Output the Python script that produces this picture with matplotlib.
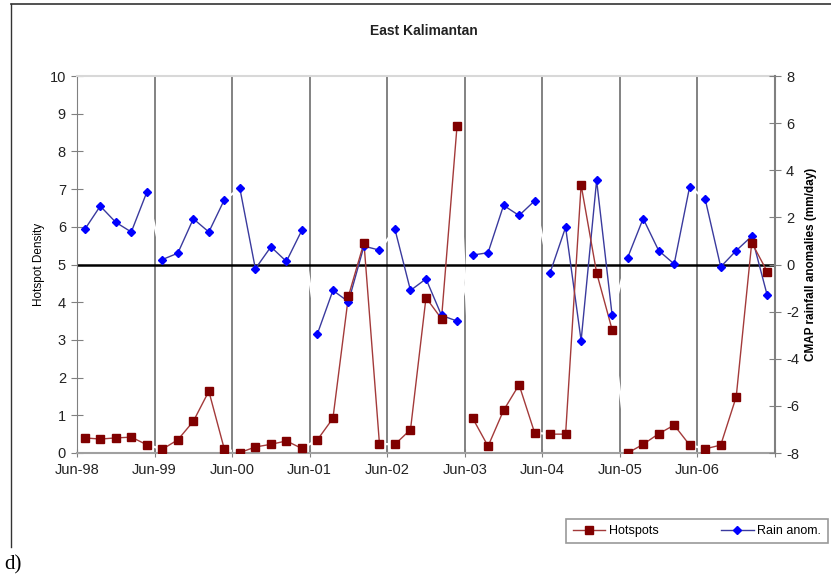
import matplotlib
matplotlib.use("Agg")
import matplotlib.pyplot as plt
from matplotlib.lines import Line2D
import numpy as np

plt.rcParams['font.family'] = ['Liberation Sans', 'DejaVu Sans']
plt.rcParams['axes.unicode_minus'] = False

years = ["Jun-98", "Jun-99", "Jun-00", "Jun-01", "Jun-02", "Jun-03", "Jun-04", "Jun-05", "Jun-06"]
points_per_year = 5

hotspots = [
    [0.40, 0.37, 0.40, 0.42, 0.22],
    [0.10, 0.35, 0.84, 1.64, 0.10],
    [0.01, 0.16, 0.23, 0.32, 0.12],
    [0.35, 0.92, 4.16, 5.58, 0.24],
    [0.23, 0.62, 4.12, 3.56, 8.67],
    [0.93, 0.18, 1.13, 1.81, 0.54],
    [0.50, 0.50, 7.11, 4.78, 3.27],
    [0.00, 0.23, 0.51, 0.74, 0.21],
    [0.11, 0.21, 1.49, 5.58, 4.81],
]

rain_anom = [
    [1.49, 2.48, 1.79, 1.38, 3.07],
    [0.21, 0.48, 1.94, 1.38, 2.75],
    [3.23, -0.18, 0.75, 0.13, 1.46],
    [-2.94, -1.10, -1.58, 0.78, 0.61],
    [1.49, -1.10, -0.61, -2.16, -2.40],
    [0.40, 0.50, 2.51, 2.08, 2.70],
    [-0.35, 1.58, -3.23, 3.57, -2.16],
    [0.29, 1.95, 0.59, 0.02, 3.31],
    [2.77, -0.10, 0.59, 1.20, -1.31],
]

W, H = 831, 577
fig = plt.figure(figsize=(W / 100, H / 100), dpi=100)
ax = fig.add_axes([77 / W, 1 - 453 / H, (775 - 77) / W, (453 - 76) / H])
ax2 = ax.twinx()

n = len(years) * points_per_year
ax.set_xlim(-0.5, n - 0.5)
ax.set_ylim(0, 10)
ax2.set_ylim(-8, 8)
rain_tr = ax2.transData

hot_c_line = '#a33a3a'
hot_c_mark = '#800000'
rain_c_line = '#3a3a9e'
rain_c_mark = '#0000ff'

# vertical year separators
for k in range(1, len(years) + 1):
    ax.axvline(k * points_per_year - 0.5, color='#606060', lw=1.1, zorder=1)

# full series in white (connecting segments between years appear as gaps)
allx = np.arange(n)
allh = np.concatenate(hotspots)
allr = np.concatenate(rain_anom)
ax.plot(allx, allh, color='white', lw=1.6, zorder=1.5)
ax.plot(allx, allr, color='white', lw=1.6, zorder=1.5, transform=rain_tr)

# zero rain anomaly reference line
ax.plot([-0.5, n - 0.5], [0, 0], color='black', lw=1.8, zorder=1.8, transform=rain_tr)

for k in range(len(years)):
    xs = np.arange(k * points_per_year, (k + 1) * points_per_year)
    ax.plot(xs, rain_anom[k], color=rain_c_line, lw=1.0, zorder=3, transform=rain_tr)
    ax.plot(xs, rain_anom[k], ls='none', marker='D', ms=4.2, mfc=rain_c_mark,
            mec=rain_c_mark, zorder=4, transform=rain_tr)
    ax.plot(xs, hotspots[k], color=hot_c_line, lw=1.0, zorder=3)
    ax.plot(xs, hotspots[k], ls='none', marker='s', ms=5.5, mfc=hot_c_mark,
            mec=hot_c_mark, zorder=4)

ax.set_xlim(-0.5, n - 0.5)
ax.set_ylim(0, 10)

# axes styling
for a in (ax, ax2):
    for s in a.spines.values():
        s.set_visible(False)
ax.spines['left'].set_visible(True)
ax.spines['left'].set_color('#808080')
ax.spines['bottom'].set_visible(True)
ax.spines['bottom'].set_color('#a0a0a0')
ax.spines['bottom'].set_linewidth(1.5)
ax.spines['top'].set_visible(True)
ax.spines['top'].set_color('#d8d8d8')
ax.spines['top'].set_linewidth(1.5)
ax2.spines['right'].set_visible(True)
ax2.spines['right'].set_color('#808080')
ax2.spines['right'].set_linewidth(1.5)

ax.set_yticks(range(0, 11))
ax2.set_yticks(range(-8, 9, 2))
ax.set_xticks([k * points_per_year - 0.5 for k in range(len(years) + 1)])
ax.set_xticklabels(years + [""])

ax.tick_params(axis='y', direction='inout', length=8, color='#808080', labelsize=10.5,
               labelcolor='#222222', pad=4)
ax2.tick_params(axis='y', direction='inout', length=8, color='#808080', labelsize=10.5,
                labelcolor='#222222', pad=4)
ax.tick_params(axis='x', direction='inout', length=6, color='#808080', labelsize=10.5,
               labelcolor='#222222', pad=4)

ax.set_ylabel('Hotspot Density', fontsize=8.5, labelpad=3)
ax2.set_ylabel('CMAP rainfall anomalies (mm/day)', fontsize=8.5, fontweight='bold',
               rotation=90, labelpad=4)

fig.text(424 / W, 1 - 31 / H, 'East Kalimantan', ha='center', va='center',
         fontsize=10, fontweight='bold', color='#222222')

# outer border lines
fig.add_artist(Line2D([11 / W, 1], [1 - 4 / H, 1 - 4 / H], color='#333333', lw=1.2))
fig.add_artist(Line2D([11 / W, 11 / W], [1 - 4 / H, 1 - 547 / H], color='#333333', lw=1.0))

fig.text(4 / W, 1 - 565 / H, 'd)', ha='left', va='center', fontsize=15,
         family=['Liberation Serif', 'DejaVu Serif'])

handles = [
    Line2D([], [], color=hot_c_line, lw=1.0, marker='s', ms=5.5, mfc=hot_c_mark, mec=hot_c_mark),
    Line2D([], [], color=rain_c_line, lw=1.0, marker='D', ms=4.2, mfc=rain_c_mark, mec=rain_c_mark),
]
leg = fig.legend(handles, ['Hotspots', 'Rain anom.'], ncol=2, loc='center',
                 bbox_to_anchor=(697 / W, 1 - 531 / H), fontsize=9, frameon=True,
                 fancybox=False, edgecolor='#808080', handlelength=2.6, columnspacing=5,
                 borderpad=0.5, handletextpad=0.3, borderaxespad=0)
leg.get_frame().set_linewidth(1.2)

fig.savefig('out.png', dpi=100)
